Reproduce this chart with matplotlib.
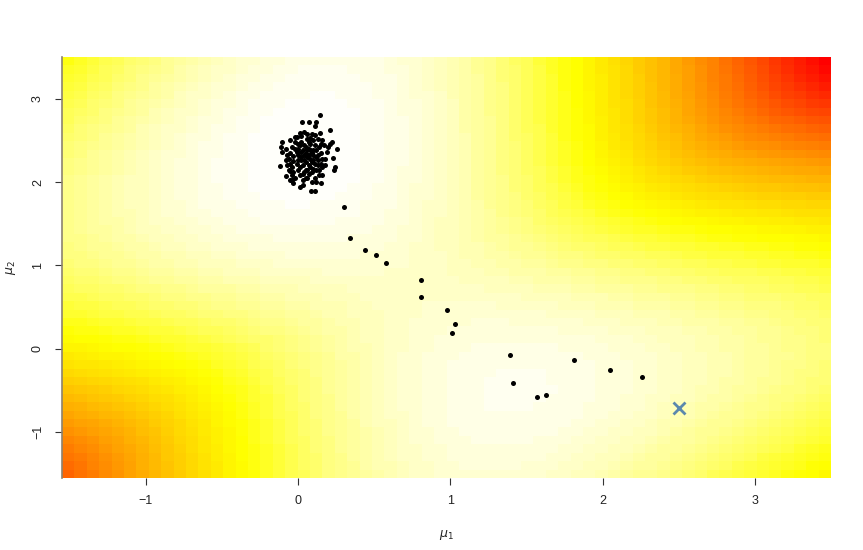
import colorsys
import numpy as np
import matplotlib
matplotlib.use("Agg")
import matplotlib.pyplot as plt
from matplotlib.colors import ListedColormap

plt.rcParams['font.family'] = ['Liberation Sans', 'DejaVu Sans']
plt.rcParams['mathtext.fontset'] = 'dejavusans'

# mixture model behind the background: 0.7 N(mu1,1) + 0.3 N(mu2,1)
weights = [0.7, 0.3]
true_means = [0.05, 2.35]
grid_range = [-1.55, 3.5]
n_cells_x = 62
n_cells_y = 50

# MCMC path (start marked with the X)
start_point = [2.5, -0.71]
path_x = [2.26, 2.05, 1.81, 1.63, 1.57, 1.41, 1.39, 1.01, 1.03, 0.98,
          0.81, 0.81, 0.58, 0.51, 0.44, 0.34, 0.30]
path_y = [-0.34, -0.26, -0.14, -0.56, -0.58, -0.41, -0.08, 0.19, 0.30, 0.46,
          0.62, 0.83, 1.03, 1.13, 1.18, 1.33, 1.70]

# draws around the main mode
cluster_x = [0.145, 0.028, 0.072, 0.12, 0.21, 0.114, -0.107, -0.112, -0.105, -0.118,
             0.255, 0.226, 0.21, 0.232, 0.243, 0.237, 0.156, 0.151, 0.086, 0.11,
             0.035, 0.013, -0.041, -0.053, 0.147, 0.013, -0.02, -0.05, -0.03, -0.08,
             0.02, 0.05, 0.08, 0.00, 0.10, -0.03, 0.04, 0.07, 0.12, -0.05,
             0.01, 0.06, 0.14, -0.02, 0.09, 0.03, -0.06, 0.11, 0.15, 0.00,
             0.04, 0.06, 0.08, -0.01, 0.13, 0.02, 0.10, -0.04, 0.07, 0.05,
             0.16, -0.07, 0.03, 0.12, -0.03, 0.09, 0.01, 0.18, -0.08, 0.06,
             0.11, 0.04, -0.02, 0.14, 0.08, 0.02, 0.17, -0.05, 0.10, 0.00,
             0.13, 0.05, -0.01, 0.07, 0.19, 0.03, 0.09, -0.06, 0.12, 0.06,
             0.15, -0.03, 0.08, 0.02, 0.11, -0.04, 0.16, 0.05, 0.00, 0.10,
             0.04, 0.07, -0.02, 0.13, 0.09, 0.01, 0.18, -0.07, 0.06, 0.14,
             0.03, 0.08, 0.20, -0.05, 0.11, 0.02, 0.12, -0.01, 0.16, 0.05,
             0.07, -0.08, 0.10, 0.04, 0.15, 0.00, 0.09, -0.04, 0.13, 0.06]
cluster_y = [2.81, 2.72, 2.72, 2.72, 2.62, 2.67, 2.48, 2.42, 2.36, 2.19,
             2.40, 2.48, 2.46, 2.29, 2.18, 2.14, 2.09, 1.99, 1.89, 1.89,
             1.97, 1.94, 2.03, 2.13, 2.59, 2.59, 2.54, 2.02, 1.99, 2.07,
             2.30, 2.35, 2.28, 2.40, 2.38, 2.25, 2.45, 2.20, 2.30, 2.35,
             2.18, 2.52, 2.42, 2.48, 2.12, 2.10, 2.28, 2.22, 2.35, 2.32,
             2.27, 2.40, 2.46, 2.22, 2.26, 2.55, 2.50, 2.42, 2.33, 2.15,
             2.18, 2.20, 2.38, 2.14, 2.12, 2.58, 2.44, 2.28, 2.40, 2.05,
             2.44, 2.60, 2.05, 2.08, 2.38, 2.26, 2.45, 2.50, 2.32, 2.14,
             2.52, 2.24, 2.36, 2.10, 2.36, 2.02, 2.24, 2.15, 2.38, 2.30,
             2.22, 2.31, 2.53, 2.48, 2.05, 2.08, 2.50, 2.42, 2.27, 2.16,
             2.33, 2.40, 2.40, 2.33, 2.00, 2.08, 2.20, 2.32, 2.58, 2.15,
             2.20, 2.18, 2.42, 2.22, 2.56, 2.36, 2.00, 2.54, 2.28, 2.05,
             2.48, 2.26, 2.27, 2.12, 2.46, 2.46, 2.35, 2.18, 2.20, 2.14]


def heat_colors(n):
    # same recipe as R's heat.colors()
    j = n // 4
    i = n - j
    cols = [colorsys.hsv_to_rgb(h, 1, 1) for h in np.linspace(0, 1 / 6, i)]
    cols += [colorsys.hsv_to_rgb(1 / 6, s, 1)
             for s in np.linspace(1 - 1 / (2 * j), 1 / (2 * j), j)]
    return ListedColormap(cols)


def norm_pdf(x):
    return np.exp(-0.5 * x ** 2) / np.sqrt(2 * np.pi)


# expected log-likelihood over the data distribution
t = np.linspace(-6, 9, 600)
dens = weights[0] * norm_pdf(t - true_means[0]) + weights[1] * norm_pdf(t - true_means[1])
dens = dens / dens.sum()

xe = np.linspace(grid_range[0], grid_range[1], n_cells_x + 1)
ye = np.linspace(grid_range[0], grid_range[1], n_cells_y + 1)
xc = (xe[:-1] + xe[1:]) / 2
yc = (ye[:-1] + ye[1:]) / 2
M1, M2 = np.meshgrid(xc, yc)
lik = (weights[0] * norm_pdf(t[None, None, :] - M1[:, :, None])
       + weights[1] * norm_pdf(t[None, None, :] - M2[:, :, None]))
loglik = (np.log(lik) * dens).sum(axis=2)

fig = plt.figure(figsize=(8.63, 5.5), dpi=100)
ax = fig.add_axes([62 / 863, 72 / 550, 769 / 863, 421 / 550])
ax.pcolormesh(xe, ye, loglik, cmap=heat_colors(100), shading='flat')

ax.scatter(cluster_x, cluster_y, s=13, c='black', marker='o', linewidths=0, zorder=3)
ax.scatter(path_x, path_y, s=13, c='black', marker='o', linewidths=0, zorder=3)
ax.plot(start_point[0], start_point[1], marker='x', color='#5b88ad', markersize=9,
        markeredgewidth=2, zorder=4)

ax.set_xlim(grid_range)
ax.set_ylim(grid_range)
ax.set_xticks([-1, 0, 1, 2, 3])
ax.set_yticks([-1, 0, 1, 2, 3])
for s in ['top', 'right', 'bottom']:
    ax.spines[s].set_visible(False)
ax.spines['left'].set_color('#8c8270')
ax.spines['left'].set_linewidth(1.2)
ax.tick_params(length=5, width=0.8, color='#333333', labelsize=9, labelcolor='#222222')
ax.tick_params(axis='x', pad=7)
ax.tick_params(axis='y', pad=8)
for lab in ax.get_yticklabels():
    lab.set_rotation(90)
    lab.set_va('center')

ax.set_xlabel(r'$\mu_1$', fontsize=9, color='#222222')
ax.set_ylabel(r'$\mu_2$', fontsize=9, color='#222222')
ax.xaxis.set_label_coords(0.5, -(528 - 478) / 421)
ax.yaxis.set_label_coords((18 - 62) / 769, 0.5)

fig.savefig('out.png', dpi=100)
